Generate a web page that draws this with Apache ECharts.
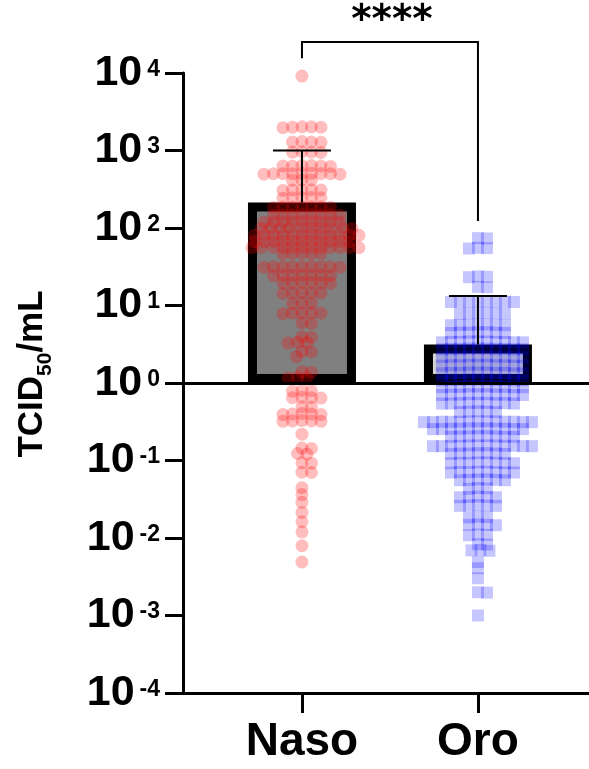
<!DOCTYPE html>
<html><head><meta charset="utf-8">
<script src="https://cdn.jsdelivr.net/npm/echarts@6/dist/echarts.min.js"></script>
<style>html,body{margin:0;padding:0;background:#fff}#c{width:589px;height:769px}</style>
</head><body><div id="c"></div>
<script>
// ---------- data ----------
const categories = ['Naso', 'Oro'];
const barMeans = [213, 3.14];          // bar heights (TCID50/mL)
const errUpper = [1000, 13.3];         // upper error bar ends
const yTickExponents = [-4, -3, -2, -1, 0, 1, 2, 3, 4];
const sigLabel = '****';
const sigBracket = { left: 0, right: 1, top: 25100, leftEnd: 15500, rightEnd: 123 };

// individual points, given as log10(TCID50/mL)
const nasoLog10 = [
  3.96,
  3.305, 3.30, 3.295, 3.305, 3.30,
  3.115, 3.11, 3.105, 3.11,
  2.985, 2.98, 2.975, 2.98,
  2.805, 2.80, 2.795, 2.80, 2.805, 2.80,
  2.705, 2.70, 2.695, 2.70, 2.705, 2.70, 2.695, 2.70, 2.70,
  2.62, 2.615, 2.62,
  2.495, 2.49, 2.485, 2.49, 2.495,
  2.395, 2.39, 2.385, 2.39, 2.395,
  2.275, 2.27, 2.265, 2.27, 2.275, 2.27, 2.265,
  2.175, 2.17, 2.165, 2.17, 2.175, 2.17, 2.165, 2.17,
  2.085, 2.08, 2.075, 2.08, 2.085, 2.08, 2.075, 2.08, 2.08,
  2.005, 2.00, 1.995, 2.00, 2.005, 2.00, 1.995, 2.00, 2.005, 2.00,
  1.915, 1.91, 1.905, 1.91, 1.915, 1.91, 1.905, 1.91, 1.915, 1.91, 1.905, 1.91,
  1.835, 1.83, 1.825, 1.83, 1.835, 1.83, 1.825, 1.83, 1.835, 1.83, 1.825,
  1.755, 1.75, 1.745, 1.75, 1.755, 1.75, 1.745, 1.75, 1.755, 1.75, 1.745, 1.75,
  1.67, 1.665, 1.67, 1.675, 1.67,
  1.505, 1.50, 1.495, 1.50, 1.505, 1.50, 1.495, 1.50, 1.50,
  1.395, 1.39, 1.385, 1.39, 1.395, 1.39, 1.385,
  1.295, 1.29, 1.285, 1.29, 1.295, 1.29,
  1.165, 1.16, 1.155, 1.16, 1.165,
  1.035, 1.03, 1.025,
  0.905, 0.90, 0.895, 0.90, 0.905,
  0.775, 0.77,
  0.595, 0.59,
  0.525, 0.52, 0.515,
  0.405, 0.40,
  0.34,
  0.145, 0.14,
  0.075, 0.07, 0.065,
  -0.10, -0.105, -0.095,
  -0.19, -0.195, -0.185, -0.19,
  -0.31, -0.305,
  -0.40, -0.405, -0.395, -0.40, -0.405,
  -0.49, -0.495, -0.485, -0.49, -0.495,
  -0.66,
  -0.84, -0.845,
  -0.91, -0.915,
  -1.03, -1.035,
  -1.15, -1.155,
  -1.35, -1.44, -1.54, -1.67, -1.79, -1.92, -2.10, -2.31
];
const oroLog10 = [
  1.87, 1.865,
  1.74, 1.735, 1.745,
  1.37, 1.365, 1.375,
  1.24, 1.235,
  1.05, 1.045, 1.055, 1.05, 1.045, 1.055, 1.05, 1.05,
  0.90, 0.895, 0.905, 0.90, 0.895, 0.905,
  0.75, 0.745, 0.755, 0.75, 0.745, 0.755, 0.75,
  0.65, 0.645, 0.655, 0.65, 0.645, 0.655, 0.65,
  0.53, 0.525, 0.535, 0.53, 0.525, 0.535, 0.53, 0.525, 0.535, 0.53,
  0.44, 0.435, 0.445, 0.44, 0.435, 0.445, 0.44, 0.435, 0.445, 0.44,
  0.34, 0.335, 0.345, 0.34, 0.335, 0.345, 0.34, 0.335, 0.345, 0.34,
  0.23, 0.225, 0.235, 0.23, 0.225, 0.235, 0.23, 0.225, 0.235, 0.23,
  0.13, 0.125, 0.135, 0.13, 0.125, 0.135, 0.13, 0.125, 0.135, 0.13,
  0.04, 0.035, 0.045, 0.04, 0.035, 0.045, 0.04, 0.035, 0.045, 0.04,
  -0.05, -0.055, -0.045, -0.05, -0.055, -0.045, -0.05, -0.055, -0.045, -0.05,
  -0.15, -0.155, -0.145, -0.15, -0.155, -0.145, -0.15, -0.155, -0.145, -0.15,
  -0.26, -0.265, -0.255, -0.26, -0.265, -0.255, -0.26, -0.265, -0.255,
  -0.37, -0.375, -0.365, -0.37, -0.375,
  -0.50, -0.505, -0.495, -0.50, -0.505, -0.495, -0.50, -0.505, -0.495, -0.50, -0.505, -0.495, -0.50,
  -0.59, -0.595, -0.585, -0.59, -0.595, -0.585, -0.59, -0.595, -0.585, -0.59, -0.595,
  -0.69, -0.695, -0.685, -0.69, -0.695, -0.685, -0.69, -0.695,
  -0.81, -0.815, -0.805, -0.81, -0.815, -0.805, -0.81, -0.815, -0.805, -0.81, -0.815, -0.805,
  -0.91, -0.915, -0.905, -0.91, -0.915, -0.905, -0.91,
  -1.03, -1.035, -1.025, -1.03, -1.035, -1.025, -1.03, -1.035,
  -1.15, -1.155, -1.145, -1.15, -1.155, -1.145, -1.15, -1.155,
  -1.25, -1.255, -1.245, -1.25, -1.255, -1.245,
  -1.36, -1.365, -1.355,
  -1.47, -1.475, -1.465, -1.47, -1.475,
  -1.58, -1.585, -1.575, -1.58, -1.585,
  -1.73, -1.735, -1.725,
  -1.83, -1.835, -1.825, -1.83,
  -1.96, -1.965, -1.955,
  -2.08, -2.085,
  -2.16, -2.165, -2.155,
  -2.31, -2.39, -2.52,
  -2.70, -2.705,
  -3.00
];

// ---------- chart ----------
const FONT = '"Liberation Sans", Arial, Helvetica, sans-serif';
const chart = echarts.init(document.getElementById('c'), null, { renderer: 'canvas' });
const xMin = -0.676, xMax = 1.631;

const baseOption = {
  animation: false,
  backgroundColor: '#fff',
  grid: { left: 183, right: 0, top: 73, bottom: 76, containLabel: false },
  xAxis: {
    type: 'value', min: xMin, max: xMax,
    splitLine: { show: false },
    axisLine: { show: true, onZero: false, lineStyle: { color: '#000', width: 3 } },
    axisTick: { show: true, customValues: [0, 1], length: 20, lineStyle: { color: '#000', width: 3 } },
    axisLabel: {
      customValues: [0, 1],
      formatter: v => categories[Math.round(v)] || '',
      margin: 26, fontSize: 46, fontWeight: 'bold', color: '#000', fontFamily: FONT
    }
  },
  yAxis: {
    type: 'log', logBase: 10, min: 1e-4, max: 1e4, splitNumber: 8,
    name: 'TCID{s|50}/mL',
    nameLocation: 'middle', nameRotate: 90, nameGap: 133,
    nameTextStyle: {
      fontSize: 35, fontWeight: 'bold', color: '#000', fontFamily: FONT,
      padding: [0, 0, 0, 18],
      rich: { s: { fontSize: 21, fontWeight: 'bold', color: '#000', fontFamily: FONT, verticalAlign: 'bottom', padding: [0, 0, -6, 0] } }
    },
    splitLine: { show: false },
    axisLine: { show: true, onZero: false, lineStyle: { color: '#000', width: 3 } },
    axisTick: { show: true, length: 18, lineStyle: { color: '#000', width: 3 } },
    axisLabel: {
      customValues: yTickExponents.map(e => Math.pow(10, e)),
      margin: 23,
      formatter: v => '{b|10}{e|' + Math.round(Math.log10(v)) + '}',
      rich: {
        b: { fontSize: 43, fontWeight: 'bold', color: '#000', fontFamily: FONT, lineHeight: 44 },
        e: { fontSize: 23, fontWeight: 'bold', color: '#000', fontFamily: FONT, verticalAlign: 'top', lineHeight: 23, padding: [7, 0, 0, 5] }
      }
    }
  },
  series: [
    {
      type: 'bar', name: 'mean', z: 2,
      barWidth: 108,
      data: barMeans.map((v, i) => ({
        value: [i, v],
        itemStyle: { color: i === 0 ? '#808080' : '#d3d3d3', borderColor: '#000', borderWidth: 9 }
      })),
      markLine: {
        silent: true, symbol: 'none', z: 10,
        label: { show: false },
        lineStyle: { color: '#000', width: 3, type: 'solid' },
        data: [{ yAxis: 1 }]
      }
    },
    { type: 'scatter', name: 'Naso', z: 3, symbol: 'circle', symbolSize: 13, itemStyle: { color: 'rgba(255,0,0,0.32)' }, data: [] },
    { type: 'scatter', name: 'Oro', z: 3, symbol: 'rect', symbolSize: 12, itemStyle: { color: 'rgba(0,0,255,0.28)' }, data: [] },
    {
      type: 'custom', name: 'err', z: 5,
      data: barMeans.map((v, i) => [i, v, errUpper[i]]),
      encode: { x: 0, y: [1, 2] },
      renderItem: (params, api) => {
        const i = api.value(0);
        const p0 = api.coord([i, api.value(1)]);
        const p1 = api.coord([i, api.value(2)]);
        const hw = 29;
        return {
          type: 'group', children: [
            { type: 'line', shape: { x1: p0[0], y1: p0[1], x2: p1[0], y2: p1[1] }, style: { stroke: '#000', lineWidth: 2 } },
            { type: 'line', shape: { x1: p1[0] - hw, y1: p1[1], x2: p1[0] + hw, y2: p1[1] }, style: { stroke: '#000', lineWidth: 2 } }
          ]
        };
      }
    },
    {
      type: 'custom', name: 'sig', z: 5, clip: false,
      data: [[(sigBracket.left + sigBracket.right) / 2, sigBracket.top]],
      renderItem: (params, api) => {
        const a = api.coord([sigBracket.left, sigBracket.leftEnd]);
        const b = api.coord([sigBracket.left, sigBracket.top]);
        const c = api.coord([sigBracket.right, sigBracket.top]);
        const d = api.coord([sigBracket.right, sigBracket.rightEnd]);
        return {
          type: 'group', children: [
            { type: 'polyline', shape: { points: [a, b, c, d] }, style: { stroke: '#000', lineWidth: 2, fill: null } },
            { type: 'text', x: (b[0] + c[0]) / 2 + 2, y: b[1] - 20,
              style: { text: sigLabel, fill: '#000', font: 'bold 39px "DejaVu Sans", sans-serif', align: 'center', verticalAlign: 'middle' } }
          ]
        };
      }
    }
  ]
};
chart.setOption(baseOption);

// beeswarm layout in pixel space using the chart's own scales
function swarm(logs, cx, dw, dh) {
  const px0 = chart.convertToPixel({ gridIndex: 0 }, [0, 1])[0];
  const px1 = chart.convertToPixel({ gridIndex: 0 }, [1, 1])[0];
  const ppu = px1 - px0;
  const pts = logs.map(e => {
    const v = Math.pow(10, e);
    return { v, py: chart.convertToPixel({ gridIndex: 0 }, [cx, v])[1] };
  });
  pts.sort((a, b) => a.py - b.py);
  const placed = [];
  const out = [];
  for (const p of pts) {
    let off = 0;
    for (let k = 0; k < 2000; k++) {
      const cand = k === 0 ? 0 : (k % 2 === 1 ? 1 : -1) * Math.ceil(k / 2) * 0.5;
      let ok = true;
      for (const q of placed) {
        const ex = (q.x - cand) / dw, ey = (q.py - p.py) / dh;
        if (ex * ex + ey * ey < 1) { ok = false; break; }
      }
      if (ok) { off = cand; break; }
    }
    placed.push({ x: off, py: p.py });
    out.push([cx + off / ppu, p.v]);
  }
  return out;
}

chart.setOption({
  series: [
    {},
    { data: swarm(nasoLog10, 0, 9.5, 6) },
    { data: swarm(oroLog10, 1, 9, 6) }
  ]
});
</script></body></html>
